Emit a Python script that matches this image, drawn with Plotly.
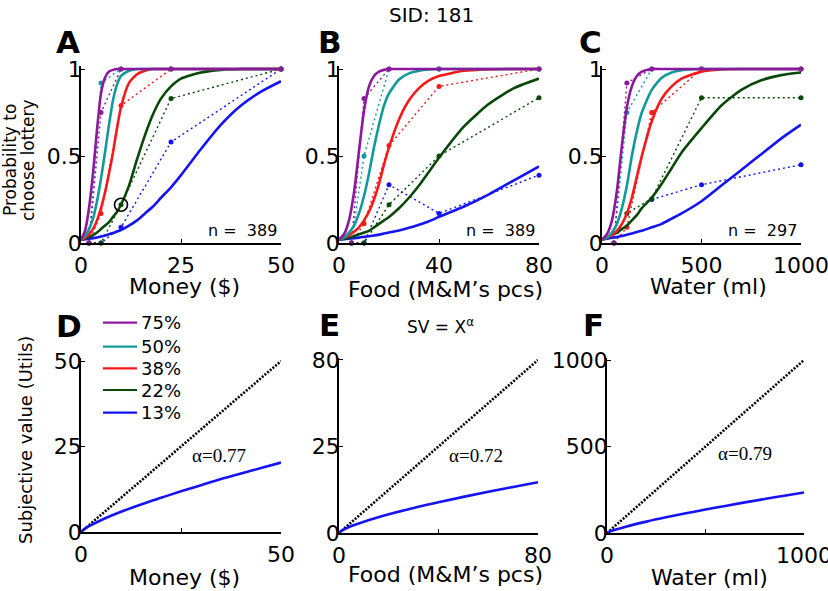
import plotly.graph_objects as go
from plotly.subplots import make_subplots

W, H = 828, 591

# ---------------- data ----------------
probs = ["75%", "50%", "38%", "22%", "13%"]
colors = ["#8B189E", "#129A9A", "#F21A1A", "#084808", "#1414F0"]

# observed choice proportions (dotted)
money_x = [2, 5, 10, 22.5, 50]
money_obs_75 = [0, 0.75, 1, 1, 1]
money_obs_50 = [0, 0.92, 1, 1, 1]
money_obs_38 = [0, 0.17, 0.79, 1, 1]
money_obs_22 = [0, 0, 0.22, 0.83, 1]
money_obs_13 = [0, 0, 0.09, 0.58, 1]

food_x = [5, 10, 20, 40, 80]
food_obs_75 = [0, 0.83, 1, 1, 1]
food_obs_50 = [0, 0.5, 1, 1, 1]
food_obs_38 = [0, 0.11, 0.56, 0.9, 1]
food_obs_22 = [0, 0, 0.22, 0.5, 0.835]
food_obs_13 = [0, 0, 0.335, 0.17, 0.39]

water_x = [60, 125, 250, 500, 1000]
water_obs_75 = [0, 0.92, 1, 1, 1]
water_obs_50 = [0, 0.75, 1, 1, 1]
water_obs_38 = [0, 0.09, 0.75, 1, 1]
water_obs_22 = [0, 0.17, 0.255, 0.835, 0.835]
water_obs_13 = [None, None, 0.25, 0.335, 0.45]

# fitted choice curves (solid)
money_grid = [0, 1, 2, 3, 4, 5, 6, 7, 8, 9, 10, 12, 14, 16, 18, 20, 22.5, 25, 30, 35, 40, 45, 50]
money_fit_75 = [0.02, 0.07, 0.2, 0.4, 0.65, 0.86, 0.95, 0.985, 0.995, 1, 1, 1, 1, 1, 1, 1, 1, 1, 1, 1, 1, 1, 1]
money_fit_50 = [0.02, 0.04, 0.08, 0.14, 0.24, 0.37, 0.52, 0.68, 0.82, 0.91, 0.96, 0.99, 1, 1, 1, 1, 1, 1, 1, 1, 1, 1, 1]
money_fit_38 = [0.02, 0.03, 0.05, 0.08, 0.13, 0.2, 0.29, 0.4, 0.52, 0.66, 0.78, 0.92, 0.97, 0.99, 1, 1, 1, 1, 1, 1, 1, 1, 1]
money_fit_22 = [0.02, 0.025, 0.035, 0.045, 0.06, 0.08, 0.1, 0.12, 0.15, 0.18, 0.22, 0.33, 0.48, 0.62, 0.74, 0.83, 0.9, 0.945, 0.98, 0.995, 1, 1, 1]
money_fit_13 = [0.02, 0.022, 0.025, 0.028, 0.032, 0.037, 0.043, 0.05, 0.057, 0.066, 0.075, 0.1, 0.13, 0.17, 0.21, 0.26, 0.32, 0.39, 0.54, 0.68, 0.79, 0.87, 0.93]

food_grid = [0, 2, 4, 6, 8, 10, 12, 14, 16, 18, 20, 24, 28, 32, 36, 40, 50, 60, 70, 80]
food_fit_75 = [0.02, 0.05, 0.13, 0.29, 0.53, 0.76, 0.9, 0.96, 0.985, 0.995, 1, 1, 1, 1, 1, 1, 1, 1, 1, 1]
food_fit_50 = [0.02, 0.03, 0.06, 0.1, 0.17, 0.27, 0.4, 0.55, 0.68, 0.79, 0.86, 0.94, 0.975, 0.99, 0.997, 1, 1, 1, 1, 1]
food_fit_38 = [0.02, 0.03, 0.045, 0.065, 0.09, 0.13, 0.18, 0.25, 0.34, 0.45, 0.55, 0.71, 0.82, 0.89, 0.935, 0.96, 0.99, 0.998, 1, 1]
food_fit_22 = [0.02, 0.025, 0.03, 0.04, 0.05, 0.06, 0.07, 0.09, 0.11, 0.13, 0.15, 0.2, 0.26, 0.33, 0.41, 0.49, 0.67, 0.8, 0.89, 0.945]
food_fit_13 = [0.02, 0.022, 0.025, 0.028, 0.031, 0.035, 0.039, 0.043, 0.048, 0.054, 0.06, 0.072, 0.087, 0.105, 0.125, 0.15, 0.21, 0.28, 0.36, 0.44]

water_grid = [0, 25, 50, 75, 100, 125, 150, 175, 200, 250, 300, 350, 400, 500, 600, 700, 800, 900, 1000]
water_fit_75 = [0.02, 0.05, 0.13, 0.3, 0.56, 0.78, 0.9, 0.96, 0.985, 1, 1, 1, 1, 1, 1, 1, 1, 1, 1]
water_fit_50 = [0.02, 0.03, 0.06, 0.11, 0.2, 0.33, 0.5, 0.64, 0.75, 0.88, 0.95, 0.98, 0.993, 1, 1, 1, 1, 1, 1]
water_fit_38 = [0.02, 0.03, 0.045, 0.07, 0.11, 0.17, 0.26, 0.38, 0.5, 0.7, 0.83, 0.9, 0.945, 0.985, 0.997, 1, 1, 1, 1]
water_fit_22 = [0.02, 0.03, 0.045, 0.06, 0.08, 0.1, 0.13, 0.16, 0.2, 0.26, 0.34, 0.43, 0.52, 0.66, 0.79, 0.88, 0.935, 0.965, 0.98]
water_fit_13 = [0.02, 0.025, 0.03, 0.035, 0.04, 0.048, 0.055, 0.063, 0.07, 0.09, 0.11, 0.14, 0.17, 0.24, 0.33, 0.42, 0.51, 0.6, 0.68]

# subjective value curves (bottom)
money_sv_x = [0, 1, 2, 5, 10, 15, 20, 25, 30, 35, 40, 45, 50]
money_sv = [0, 1.0, 1.7, 3.45, 5.9, 8.05, 10.0, 11.9, 13.7, 15.5, 17.1, 18.7, 20.3]
food_sv_x = [0, 1, 2, 5, 10, 20, 30, 40, 50, 60, 70, 80]
food_sv = [0, 1.0, 1.65, 3.2, 5.25, 8.65, 11.6, 14.2, 16.7, 19.1, 21.3, 23.5]
water_sv_x = [0, 5, 10, 25, 50, 100, 200, 300, 400, 500, 600, 700, 800, 900, 1000]
water_sv = [0, 3.6, 6.2, 12.7, 22.0, 38.0, 65.7, 90.5, 113.6, 135.6, 156.6, 176.9, 196.5, 215.6, 234.4]

money_diag = [0, 50]
food_diag = [0, 80]
water_diag = [0, 1000]

alphas = ["α=0.77", "α=0.72", "α=0.79"]
n_labels = ["n =  389", "n =  389", "n =  297"]
circled_point = (10, 0.22)

# ---------------- figure ----------------
fig = make_subplots(rows=2, cols=3)

FONT = "DejaVu Sans"

def px_x(a, b):
    return [a / W, b / W]

def px_y(top, bottom):
    return [1 - bottom / H, 1 - top / H]

top_panels = [
    (money_x, [money_obs_75, money_obs_50, money_obs_38, money_obs_22, money_obs_13],
     money_grid, [money_fit_75, money_fit_50, money_fit_38, money_fit_22, money_fit_13]),
    (food_x, [food_obs_75, food_obs_50, food_obs_38, food_obs_22, food_obs_13],
     food_grid, [food_fit_75, food_fit_50, food_fit_38, food_fit_22, food_fit_13]),
    (water_x, [water_obs_75, water_obs_50, water_obs_38, water_obs_22, water_obs_13],
     water_grid, [water_fit_75, water_fit_50, water_fit_38, water_fit_22, water_fit_13]),
]

for c, (ox, obs, gx, fits) in enumerate(top_panels, start=1):
    for i in range(4, -1, -1):
        fig.add_trace(go.Scatter(x=ox, y=obs[i], mode="lines+markers",
                                 line=dict(color=colors[i], width=1.4, dash="2px,3px"),
                                 marker=dict(color=colors[i], size=5),
                                 cliponaxis=False, showlegend=False, connectgaps=True),
                      row=1, col=c)
    for i in range(4, -1, -1):
        fig.add_trace(go.Scatter(x=gx, y=fits[i], mode="lines",
                                 line=dict(color=colors[i], width=2.6, shape="spline", smoothing=0.6),
                                 showlegend=False),
                      row=1, col=c)

fig.add_trace(go.Scatter(x=[circled_point[0]], y=[circled_point[1]], mode="markers",
                         marker=dict(symbol="circle-open", size=13, color="black",
                                     line=dict(width=1.6, color="black")),
                         showlegend=False), row=1, col=1)

bottom_panels = [(money_sv_x, money_sv, money_diag), (food_sv_x, food_sv, food_diag),
                 (water_sv_x, water_sv, water_diag)]
for c, (sx, sv, dg) in enumerate(bottom_panels, start=1):
    fig.add_trace(go.Scatter(x=dg, y=dg, mode="lines",
                             line=dict(color="black", width=2.6, dash="2px,1.5px"),
                             showlegend=False), row=2, col=c)
    fig.add_trace(go.Scatter(x=sx, y=sv, mode="lines",
                             line=dict(color=colors[4], width=2.6, shape="spline"),
                             showlegend=False), row=2, col=c)

axis_common = dict(showgrid=False, zeroline=False, showline=True, linecolor="black",
                   linewidth=1.5, ticks="inside", ticklen=4, tickwidth=1.3, tickcolor="black",
                   tickfont=dict(family=FONT, size=22, color="black"), mirror=False,
                   automargin=False, ticklabeloverflow="allow")

# domains (pixel based)
xdoms = [(81, 281), (339, 539), (602, 801), (81, 281), (339, 538), (607, 804)]
top_y = (66.4, 243)
bot_y = [(358.3, 532), (357.8, 533), (358.3, 533)]

xr = [[0, 50], [0, 80], [0, 1000]]
xt = [[0, 25, 50], [0, 40, 80], [0, 500, 1000]]
for k in range(6):
    c = k % 3
    xa = "xaxis" if k == 0 else f"xaxis{k+1}"
    ya = "yaxis" if k == 0 else f"yaxis{k+1}"
    if k < 3:
        ticktext = [str(v) for v in xt[c]]
    else:
        ticktext = [str(xt[c][0]), "", str(xt[c][2])]
    fig.layout[xa].update(domain=px_x(*xdoms[k]), range=xr[c], tickvals=xt[c], ticktext=ticktext,
                          ticklabelstandoff=2, **axis_common)
    if k < 3:
        fig.layout[ya].update(domain=px_y(*top_y), range=[0, 1.015], tickvals=[0, 0.5, 1],
                              ticktext=["0", "0.5", "1"], ticklabelstandoff=-7, **axis_common)
    else:
        yrng = [[0, 50.8], [0, 81], [0, 1010]][c]
        ytv = [[0, 25, 50], [0, 40, 80], [0, 500, 1000]][c]
        ytt = [["0", "25", "50"], ["0", "25", "80"], ["0", "500", "1000"]][c]
        fig.layout[ya].update(domain=px_y(*bot_y[c]), range=yrng, tickvals=ytv, ticktext=ytt,
                              ticklabelstandoff=-7, **axis_common)

ann = []

def paper_text(text, x, y, size, bold=False, angle=0, family=FONT, xanchor="center"):
    ann.append(dict(text=f"<b>{text}</b>" if bold else text, x=x / W, y=1 - y / H,
                    xref="paper", yref="paper", showarrow=False, textangle=angle,
                    xanchor=xanchor, yanchor="middle",
                    font=dict(family=family, size=size, color="black")))

paper_text("SID: 181", 431, 15, 20)
for letter, (lx, ly) in zip("ABCDEF", [(68, 42), (330, 42), (590, 42), (69, 326), (329, 325), (593, 325)]):
    paper_text(letter, lx, ly, 31, bold=True)

for t, (tx, ty) in zip(["Money ($)", "Food (M&M’s pcs)", "Water (ml)"] * 2,
                       [(184, 287), (446, 289), (708, 287), (184, 577), (445, 574), (709, 577)]):
    paper_text(t, tx, ty, 22)

paper_text("Probability to", 10, 160, 17, angle=-90)
paper_text("choose lottery", 28, 160, 17, angle=-90)
paper_text("Subjective value (Utils)", 25, 440, 18, angle=-90)
paper_text("SV = X<sup>α</sup>", 440, 326, 17)

# n labels in data coords
for c, (lab, xmax) in enumerate(zip(n_labels, [50, 80, 1000]), start=1):
    ann.append(dict(text=lab, x=xmax, y=0, xref=f"x{'' if c == 1 else c}", yref=f"y{'' if c == 1 else c}",
                    xanchor="right", yanchor="bottom", xshift=-2, yshift=1, showarrow=False,
                    font=dict(family=FONT, size=16, color="black")))

# alpha labels
for c, (lab, ax_, ay_) in enumerate(zip(alphas, [34.5, 55, 700], [22.5, 36, 457]), start=4):
    ann.append(dict(text=lab, x=ax_, y=ay_, xref=f"x{c}", yref=f"y{c}", showarrow=False,
                    xanchor="center", yanchor="middle",
                    font=dict(family="Liberation Serif", size=19, color="black")))

# legend (custom)
shapes = []
rows_y = [322.7, 346.7, 368.3, 390, 412.7]
for i, (p, col) in enumerate(zip(probs, colors)):
    shapes.append(dict(type="line", xref="paper", yref="paper", x0=103 / W, x1=137 / W,
                       y0=1 - rows_y[i] / H, y1=1 - rows_y[i] / H,
                       line=dict(color=col, width=2.2)))
    paper_text(p, 139, rows_y[i], 18, xanchor="left")

fig.update_layout(width=W, height=H, margin=dict(l=0, r=0, t=0, b=0),
                  paper_bgcolor="white", plot_bgcolor="white",
                  annotations=ann, shapes=shapes, showlegend=False)

fig.write_html("out.html", config={"displayModeBar": False},
               post_script="document.body.style.margin='0';document.body.style.overflow='hidden';")
